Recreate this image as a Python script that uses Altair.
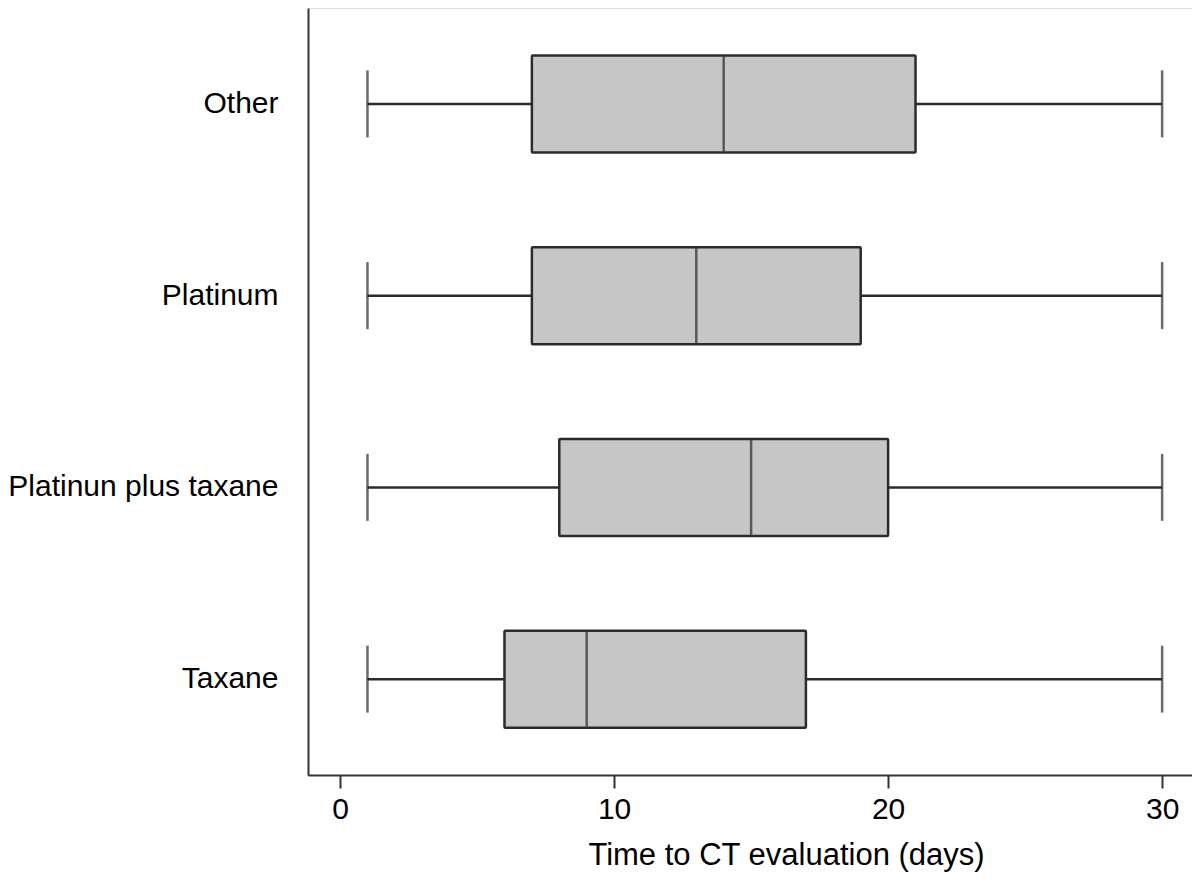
import altair as alt
import pandas as pd

groups = ["Other", "Platinum", "Platinun plus taxane", "Taxane"]
mins = [1, 1, 1, 1]
q1s = [7, 7, 8, 6]
medians = [14, 13, 15, 9]
q3s = [21, 19, 20, 17]
maxs = [30, 30, 30, 30]

df = pd.DataFrame({"group": groups, "lo": mins, "q1": q1s, "med": medians, "q3": q3s, "hi": maxs})

FONT = "Liberation Sans"
xscale = alt.Scale(domain=[-1.17, 31.09], nice=False, zero=False)
yscale = alt.Scale(domain=groups, paddingInner=0.5, paddingOuter=0.25)

x_axis = alt.Axis(values=[0, 10, 20, 30], title="Time to CT evaluation (days)", grid=False,
                  tickSize=13, tickWidth=2, tickColor="#333333", domainColor="#333333",
                  domainWidth=2, labelFontSize=30, labelFont=FONT, labelColor="#000000",
                  labelPadding=6, titleFontSize=31, titleFont=FONT, titleFontWeight="normal",
                  titleColor="#000000", titlePadding=16, titleX=478, titleAlign="center")
y_axis = alt.Axis(title=None, ticks=False, grid=False, domainColor="#333333", domainWidth=2,
                  labelFontSize=30, labelFont=FONT, labelColor="#000000", labelPadding=30,
                  labelAlign="right", labelLimit=0)

base = alt.Chart(df)
y_enc = alt.Y("group:N", scale=yscale, axis=y_axis, sort=groups)

LC = "#2b2b2b"
whisk_lo = base.mark_rule(color=LC, strokeWidth=2.5).encode(
    x=alt.X("lo:Q", scale=xscale, axis=x_axis), x2="q1:Q", y=y_enc)
whisk_hi = base.mark_rule(color=LC, strokeWidth=2.5).encode(
    x=alt.X("q3:Q", scale=xscale), x2="hi:Q", y=y_enc)
caps_lo = base.mark_tick(color=LC, thickness=2.5, size=67, orient="vertical").encode(
    x=alt.X("lo:Q", scale=xscale), y=y_enc)
caps_hi = base.mark_tick(color=LC, thickness=2.5, size=67, orient="vertical").encode(
    x=alt.X("hi:Q", scale=xscale), y=y_enc)
box = base.mark_bar(size=97, fill="#c6c6c6", stroke=LC, strokeWidth=2.5, cornerRadius=1).encode(
    x=alt.X("q1:Q", scale=xscale), x2="q3:Q", y=y_enc)
med = base.mark_tick(color=LC, thickness=2.5, size=95, orient="vertical").encode(
    x=alt.X("med:Q", scale=xscale), y=y_enc)

chart = alt.layer(whisk_lo, whisk_hi, caps_lo, caps_hi, box, med).properties(
    width=884, height=767,
    autosize=alt.AutoSizeParams(type="none"),
    padding={"left": 300, "top": 0, "right": 0, "bottom": 106},
).configure_view(stroke=None).configure(background="#ffffff")

chart.save("out.html", embed_options={"renderer": "svg", "actions": False})
